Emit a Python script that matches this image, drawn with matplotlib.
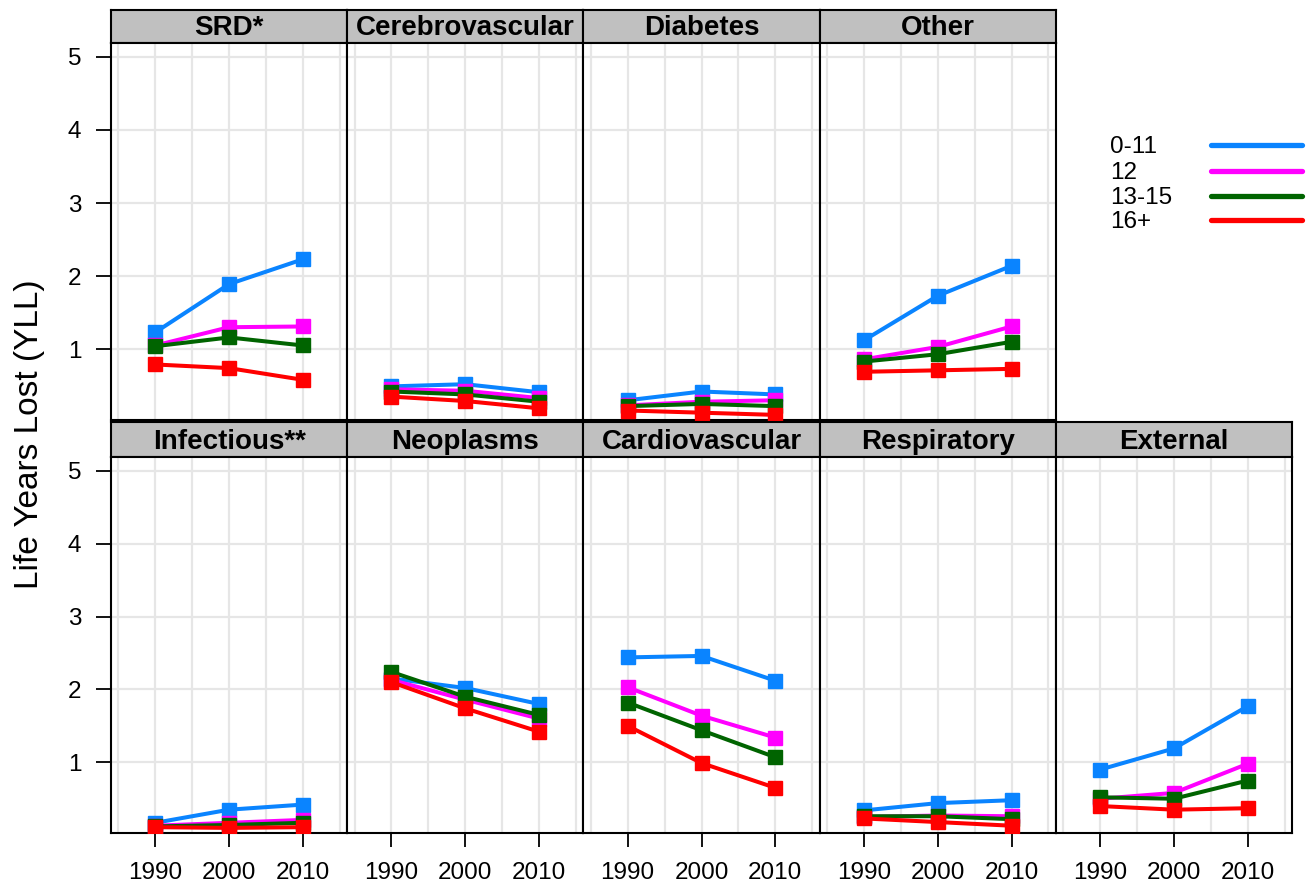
import numpy as np
import matplotlib
matplotlib.use("Agg")
import matplotlib.pyplot as plt
from matplotlib.lines import Line2D

plt.rcParams["font.family"] = ["Liberation Sans", "DejaVu Sans"]

years = [1990, 2000, 2010]
groups = ["0-11", "12", "13-15", "16+"]
colors = ["#0A84FF", "#FF00FF", "#006400", "#FF0000"]

# YLL per cause, one list per education group (0-11, 12, 13-15, 16+)
srd = [[1.23, 1.89, 2.23], [1.05, 1.30, 1.31], [1.04, 1.16, 1.05], [0.79, 0.74, 0.58]]
cerebro = [[0.49, 0.52, 0.41], [0.45, 0.43, 0.33], [0.42, 0.38, 0.28], [0.35, 0.29, 0.19]]
diabetes = [[0.30, 0.42, 0.38], [0.23, 0.28, 0.30], [0.22, 0.25, 0.22], [0.16, 0.13, 0.10]]
other = [[1.12, 1.73, 2.14], [0.86, 1.03, 1.31], [0.83, 0.93, 1.10], [0.69, 0.71, 0.73]]
infectious = [[0.17, 0.35, 0.42], [0.13, 0.17, 0.21], [0.12, 0.14, 0.17], [0.11, 0.10, 0.11]]
neoplasms = [[2.15, 2.02, 1.80], [2.13, 1.86, 1.60], [2.24, 1.90, 1.65], [2.10, 1.74, 1.42]]
cardio = [[2.44, 2.46, 2.12], [2.03, 1.64, 1.34], [1.82, 1.44, 1.07], [1.50, 0.99, 0.65]]
respiratory = [[0.34, 0.44, 0.48], [0.25, 0.27, 0.26], [0.26, 0.26, 0.22], [0.23, 0.18, 0.13]]
external = [[0.90, 1.19, 1.77], [0.50, 0.58, 0.98], [0.52, 0.50, 0.75], [0.40, 0.35, 0.37]]

top_row = [("SRD*", srd), ("Cerebrovascular", cerebro), ("Diabetes", diabetes), ("Other", other)]
bottom_row = [("Infectious**", infectious), ("Neoplasms", neoplasms),
              ("Cardiovascular", cardio), ("Respiratory", respiratory), ("External", external)]

W, H = 1310, 888
fig = plt.figure(figsize=(W / 100, H / 100), dpi=100)

x0, pw = 111, 236.2
rows = [(10, 43, 420), (422, 457, 833)]  # strip top, panel top, panel bottom (px)


def px_axes(left, top, width, height):
    return fig.add_axes([left / W, 1 - (top + height) / H, width / W, height / H])


for r, panels in enumerate([top_row, bottom_row]):
    st, pt, pb = rows[r]
    for c, (title, data) in enumerate(panels):
        left = x0 + c * pw
        # strip
        sax = px_axes(left, st, pw, pt - st)
        sax.set_facecolor("#C0C0C0")
        sax.set_xticks([]); sax.set_yticks([])
        for s in sax.spines.values():
            s.set_linewidth(1.5)
        sax.text(0.5, 0.44, title, ha="center", va="center", fontsize=20,
                 fontweight="bold", transform=sax.transAxes)
        # panel
        ax = px_axes(left, pt, pw, pb - pt)
        ax.set_xlim(1984, 2016)
        ax.set_ylim(0.03, 5.19)
        for gx in range(1985, 2016, 5):
            ax.axvline(gx, color="#E6E6E6", lw=1.6, zorder=0)
        for gy in range(1, 6):
            ax.axhline(gy, color="#E6E6E6", lw=1.6, zorder=0)
        for vals, col in zip(data, colors):
            ax.plot(years, vals, color=col, lw=2.9, marker="s", ms=9.5,
                    mec=col, mfc=col, zorder=3)
        for s in ax.spines.values():
            s.set_linewidth(1.5)
        if c == 0:
            ax.set_yticks([1, 2, 3, 4, 5])
            ax.tick_params(axis="y", length=10.5, width=1.3, labelsize=17.5, pad=11)
        else:
            ax.set_yticks([])
        if r == 1:
            ax.set_xticks(years)
            ax.tick_params(axis="x", length=10, width=1.3, labelsize=17.5, pad=11)
        else:
            ax.set_xticks([])

fig.text(30 / W, 1 - 434 / H, "Life Years Lost (YLL)", rotation=90,
         ha="center", va="center", fontsize=24)

# legend in the empty top-right cell
leg_y = [147, 173, 198, 222]
for lab, col, yy in zip(groups, colors, leg_y):
    fig.text(1110 / W, 1 - yy / H, lab, ha="left", va="center", fontsize=17.5)
    fig.add_artist(Line2D([1211 / W, 1302 / W], [1 - (yy - 2) / H] * 2,
                          color=col, lw=3.8, solid_capstyle="round",
                          transform=fig.transFigure))

fig.savefig("out.png", dpi=100)
